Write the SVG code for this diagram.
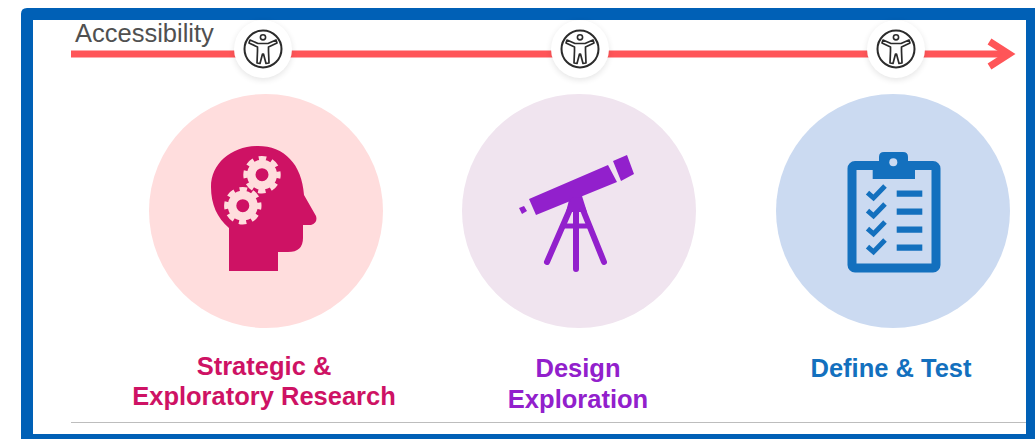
<svg xmlns="http://www.w3.org/2000/svg" width="1035" height="439" viewBox="0 0 1035 439">
<style>
.t{font-family:"Liberation Sans",Arial,sans-serif;font-weight:700;font-size:25.5px;text-anchor:middle}
.pink{fill:#CE1264}.purple{fill:#9220CC}.blue{fill:#1370BE}
.leg{stroke:#9220CC;stroke-width:6;stroke-linecap:round;fill:none}
.chk{stroke:#1370BE;stroke-width:5;fill:none}
</style>
<defs>
<filter id="sh" x="-30%" y="-30%" width="160%" height="160%"><feGaussianBlur stdDeviation="3"/></filter>
<g id="gear">
<circle r="10.75" fill="none" stroke="#FFDDDD" stroke-width="8.5"/>
<circle r="16.5" fill="none" stroke="#FFDDDD" stroke-width="4.4" stroke-dasharray="7.5 5.46" stroke-dashoffset="3.75"/>
</g>
<g id="badge">
<circle cy="2" r="29" fill="#000" opacity=".1" filter="url(#sh)"/>
<circle r="29" fill="#fff"/>
<circle r="18.5" fill="none" stroke="#2b2b2b" stroke-width="2"/>
<circle cy="-11.7" r="2.6" fill="none" stroke="#2b2b2b" stroke-width="1.6"/>
<path d="M-13-9-5-5.5H5L13-9 14-6 5.5-2V2L6 14 3 14.5 .5 5H-.5L-3 14.5-6 14-5.5 2V-2L-14-6Z" fill="none" stroke="#2b2b2b" stroke-width="1.7" stroke-linejoin="round"/>
</g>
<path id="check" d="M867.5 192.7l6 5.2 11.5-12"/>
</defs>
<rect width="1035" height="439" fill="#fff"/>
<path fill-rule="evenodd" fill="#0060B6" d="M27 8H1035V439H21V14Q21 8 27 8ZM33 20V434H1026V20Z"/>
<text x="75" y="42" font-family="Liberation Sans,Arial,sans-serif" font-size="25.5" fill="#505050">Accessibility</text>
<line x1="71" y1="422.5" x2="1026" y2="422.5" stroke="#bdbdbd" stroke-width="1"/>
<g id="connectors">
<line x1="71" y1="54" x2="1009" y2="54" stroke="#FF5558" stroke-width="7"/>
<path d="M989.5 41.5 1009 54 989.5 66.5" fill="none" stroke="#FF5558" stroke-width="7"/>
</g>
<g id="badge1"><use href="#badge" x="263" y="49"/></g>
<g id="badge2"><use href="#badge" x="580" y="49"/></g>
<g id="badge3"><use href="#badge" x="896" y="49"/></g>
<g id="node-research">
<circle cx="266" cy="211" r="117" fill="#FFDDDD"/>
<path class="pink" d="M229 271V228C217 218 211 204 211 187 211 163 232 146 258 146 284 146 302 164 304 195L316 216Q318 223 311 225H303V238Q303 252 288 252H278V271Z"/>
<use href="#gear" x="262" y="174.7"/>
<use href="#gear" x="242.8" y="205.7"/>
<text class="t pink" x="264" y="375">Strategic &amp;</text>
<text class="t pink" x="264" y="405">Exploratory Research</text>
</g>
<g id="node-design">
<circle cx="579" cy="211" r="117" fill="#F0E4EF"/>
<path class="purple" d="M529 199 608 165 617 182 536 215ZM613 161 627 155 634 174 621 181ZM519 208 524 206 527 211 522 214Z"/>
<path class="purple" d="M570 196H582L587 212H566Z"/>
<path class="leg" d="M574 200 547 262M579 200 604 262M576 200V269"/>
<path d="M563 226H588" stroke="#9220CC" stroke-width="5"/>
<text class="t purple" x="578" y="377">Design</text>
<text class="t purple" x="578" y="408">Exploration</text>
</g>
<g id="node-define">
<circle cx="893" cy="211" r="117" fill="#CBDAF1"/>
<rect x="852" y="165.5" width="84" height="102.5" rx="3" fill="none" stroke="#1370BE" stroke-width="9"/>
<path class="blue" d="M872.7 165H879V157Q879 152 884 152H903Q908 152 908 157V165H915V179H872.7Z"/>
<circle cx="893.3" cy="162.3" r="4" fill="#CBDAF1"/>
<g class="chk"><use href="#check"/><use href="#check" y="18"/><use href="#check" y="36"/><use href="#check" y="54"/></g>
<path class="blue" d="M896.7 190.5H922.3V196.8H896.7ZM896.7 208.5H922.3V214.8H896.7ZM896.7 226.5H922.3V232.8H896.7ZM896.7 244.5H922.3V250.8H896.7Z"/>
<text class="t blue" x="891" y="377">Define &amp; Test</text>
</g>
</svg>
